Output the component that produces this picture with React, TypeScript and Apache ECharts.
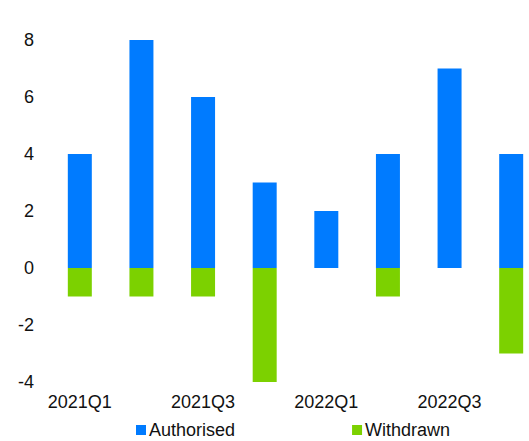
import React, { useEffect, useRef } from "react";
import * as echarts from "echarts";

const categories = ["2021Q1", "2021Q2", "2021Q3", "2021Q4", "2022Q1", "2022Q2", "2022Q3", "2022Q4"];
const authorised = [4, 8, 6, 3, 2, 4, 7, 4];
const withdrawn = [-1, -1, -1, -4, 0, -1, 0, -3];

export default function App() {
  const ref = useRef<HTMLDivElement>(null);
  useEffect(() => {
    if (!ref.current) return;
    const chart = echarts.init(ref.current, null, { renderer: "svg" });
    const font = "Liberation Sans, Arial, sans-serif";
    chart.setOption({
      animation: false,
      textStyle: { fontFamily: font },
      grid: { left: 49, right: -13, top: 40, bottom: 59, containLabel: false, outerBoundsMode: "none" },
      legend: {
        left: 136,
        top: 421,
        padding: 0,
        icon: "rect",
        itemWidth: 10,
        itemHeight: 10,
        itemGap: 117,
        textStyle: { fontSize: 18, color: "#111", fontFamily: font, padding: [0, 0, 0, -2] },
        data: ["Authorised", "Withdrawn"],
      },
      xAxis: {
        type: "category",
        data: categories,
        axisLine: { show: false },
        axisTick: { show: false },
        axisLabel: { interval: 1, fontSize: 18, color: "#111", margin: 11, fontFamily: font },
      },
      yAxis: {
        type: "value",
        min: -4,
        max: 8,
        interval: 2,
        splitLine: { show: false },
        axisLine: { show: false },
        axisTick: { show: false },
        axisLabel: { fontSize: 18, color: "#111", margin: 15, fontFamily: font },
      },
      series: [
        {
          name: "Authorised",
          type: "bar",
          stack: "total",
          data: authorised,
          barWidth: 24,
          itemStyle: { color: "#007BFF" },
        },
        {
          name: "Withdrawn",
          type: "bar",
          stack: "total",
          data: withdrawn,
          barWidth: 24,
          itemStyle: { color: "#7CD100" },
        },
      ],
    });
    return () => chart.dispose();
  }, []);
  return <div ref={ref} style={{ width: 529, height: 441, position: "absolute", left: 0, top: 0 }} />;
}
